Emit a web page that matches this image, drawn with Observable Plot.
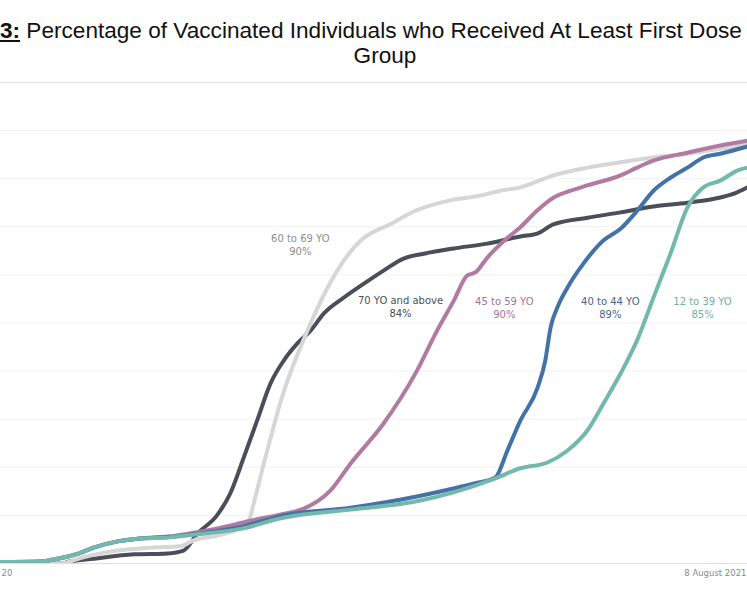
<!DOCTYPE html>
<html>
<head>
<meta charset="utf-8">
<script src="https://cdn.jsdelivr.net/npm/d3@7"></script>
<script src="https://cdn.jsdelivr.net/npm/@observablehq/plot@0.6"></script>
<style>
html, body { margin: 0; padding: 0; background: #fff; overflow: hidden; width: 747px; height: 598px; }
#title { position: relative; height: 70px; font-family: "Liberation Sans", Arial, sans-serif; font-size: 22.6px; line-height: 25px; color: #111; }
#t1 { position: absolute; left: 0; top: 18px; white-space: nowrap; }
#t1 u { font-weight: bold; }
#t2 { position: absolute; left: 0; width: 770px; top: 43px; text-align: center; }
</style>
</head>
<body>
<div id="title">
  <div id="t1"><u>3:</u> Percentage of Vaccinated Individuals who Received At Least First Dose</div>
  <div id="t2">Group</div>
</div>
<div id="chart"></div>
<script>
// Day offsets since 24 February 2021, percentage of group vaccinated (first dose)
const START = Date.UTC(2021, 1, 24);

const age70plus = [[0,0],[14,0],[15,0.3],[21,1.0],[30,1.9],[37.5,2.1],[41.1,2.7],[44.2,6.2],[48.6,10.0],[51.6,14.6],[54.6,22],[57.6,29.7],[60.6,37.4],[63.6,42.2],[66.6,45.7],[69.6,48.4],[72.6,52],[77.1,55.3],[81.6,58.2],[86,60.9],[90.5,63.4],[95,64.4],[101.7,65.5],[109.3,66.5],[116.7,68],[120.5,68.6],[124.1,70.5],[131.8,71.9],[139.2,73],[146.6,74.2],[154.2,75],[161.6,76.1],[165,77],[167.7,78.2]];

const age60to69 = [[0,0],[13.5,0],[18.6,1.3],[26.3,2.7],[33.7,3.3],[40.4,3.6],[43.3,4.8],[48.7,5.8],[55.4,8.2],[57.2,13.8],[59.1,20.7],[63.2,34.6],[68.9,48.4],[75.6,60.9],[80.8,67.1],[87.6,70.6],[93.6,73.5],[101,75.5],[107.8,76.5],[112.2,77.5],[116.7,78.2],[124.1,80.7],[131.8,82.3],[139.2,83.4],[146.6,84.4],[154.2,85.2],[161.6,86.2],[167.7,87.2]];

const age45to59 = [[0,0.3],[9,0.4],[12.8,1.0],[17.3,2.0],[20.9,3.3],[26.3,4.6],[31.4,5.2],[37.5,5.6],[43.3,6.4],[48.7,7.3],[56.1,8.9],[63.5,10.3],[68.1,11.4],[74.1,15.2],[78.6,20.8],[86,29.1],[93.5,40.1],[98,48.4],[101.8,54.7],[104.8,59.9],[106.6,60.5],[109.3,63.6],[113.7,67.6],[116.7,69.9],[120.5,73.4],[124.2,76.1],[128,77.5],[131.7,78.6],[139.2,80.7],[142.9,82.3],[146.7,83.8],[154.2,85.4],[161.6,86.9],[167.7,87.9]];

const age40to44 = [[0,0.3],[9,0.4],[12.8,1.0],[17.3,2.0],[20.9,3.3],[26.3,4.6],[31.4,5.2],[37.5,5.5],[43.3,6.1],[53.9,7.6],[63.5,10.0],[78.6,11.6],[94.3,14.1],[101.7,15.6],[106.2,16.6],[111.1,17.9],[113.8,23.5],[116.7,29.7],[120.6,36.6],[122.3,42.2],[123.5,49.1],[125,53.2],[127.3,57.4],[130.9,62.4],[135.4,67.2],[139.2,69.6],[143,73.4],[146.6,77.5],[150.4,80.2],[154.2,82.3],[157.8,84.4],[161.6,85.2],[167.7,86.7]];

const age12to39 = [[0,0.3],[9,0.4],[12.8,1.0],[17.3,2.0],[20.9,3.3],[26.3,4.6],[31.4,5.2],[37.5,5.4],[43.3,6.0],[53.9,7.2],[63.5,9.5],[78.6,11.2],[94.3,13.1],[101.7,14.8],[111.1,17.7],[116.7,19.8],[122.8,21],[127.3,23.5],[131.8,27.7],[135.4,33.3],[139.2,39.5],[143,46.6],[146.6,55.3],[150.4,64.4],[154.2,74],[157.8,78.2],[161.6,79.6],[165.4,81.7],[167.7,82.3]];

const seriesNames = ["70 YO and above", "60 to 69 YO", "45 to 59 YO", "40 to 44 YO", "12 to 39 YO"];
const seriesValues = [age70plus, age60to69, age45to59, age40to44, age12to39];
const finalShare = ["84%", "90%", "90%", "89%", "85%"];

// label anchors [day, pct] for each series' annotation
const labelAnchors = [[89.8, 53.5], [67.3, 66.4], [113.1, 53.2], [136.9, 53.3], [157.6, 53.3]];

const gridTicks = [10, 20, 30, 40, 50, 60, 70, 80, 90];
const edgeTicks = [0, 100];
const xTickLabels = [[0, "20", "start"], [167.7, "8 August 2021", "end"]];

// styles
const lineColors = ["#4b4e58", "#d6d6d6", "#b07aa1", "#4373a6", "#72b8ab"];
const labelColors = ["#4b4e58", "#8d8d8d", "#a4739a", "#46658f", "#6fb0a4"];

const toDate = d => new Date(START + d * 864e5);

const rows = seriesNames.flatMap((name, i) =>
  seriesValues[i].map(([d, v]) => ({date: toDate(d), value: v, group: name, i})));

const labels = seriesNames.map((name, i) => ({
  date: toDate(labelAnchors[i][0]), value: labelAnchors[i][1],
  text: name + "\n" + finalShare[i], i
}));

const xLabels = xTickLabels.map(([d, t, a]) => ({date: toDate(d), value: 0, text: t, anchor: a}));

const font = "'DejaVu Sans', sans-serif";

const chart = Plot.plot({
  width: 747,
  height: 528,
  marginTop: 12,
  marginBottom: 35,
  marginLeft: 0,
  marginRight: 0,
  style: {background: "#fff", overflow: "visible"},
  x: {type: "utc", domain: [toDate(0), toDate(167.7)], axis: null},
  y: {domain: [0, 100], axis: null},
  marks: [
    Plot.ruleY(gridTicks, {stroke: "#f1f1f1", strokeWidth: 1}),
    Plot.ruleY(edgeTicks, {stroke: "#dedede", strokeWidth: 1}),
    ...seriesNames.map((name, i) =>
      Plot.line(rows.filter(r => r.i === i), {
        x: "date", y: "value", stroke: lineColors[i], strokeWidth: 4,
        curve: "monotone-x", clip: true, strokeLinejoin: "round"
      })),
    ...labels.map(l => Plot.text([l], {
      x: "date", y: "value", text: "text", fill: labelColors[l.i],
      fontSize: 10, fontFamily: font, lineHeight: 1.3, lineAnchor: "middle", textAnchor: "middle"
    })),
    ...xLabels.map(l => Plot.text([l], {
      x: "date", y: "value", text: "text", dy: 10, dx: l.anchor === "end" ? -1 : 1, fill: "#8a8a8a",
      fontSize: 8.5, fontFamily: font, textAnchor: l.anchor
    }))
  ]
});
document.getElementById("chart").appendChild(chart);
</script>
</body>
</html>
